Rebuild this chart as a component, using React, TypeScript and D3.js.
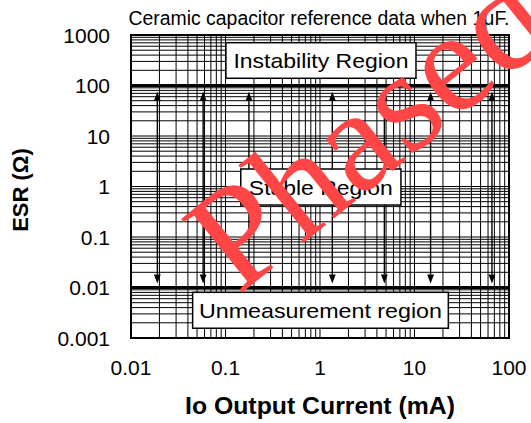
import React from 'react';
import * as d3 from 'd3';

// ---- data ----
const xTickValues = [0.01, 0.1, 1, 10, 100];
const xTickLabels = ['0.01', '0.1', '1', '10', '100'];
const yTickValues = [0.001, 0.01, 0.1, 1, 10, 100, 1000];
const yTickLabels = ['0.001', '0.01', '0.1', '1', '10', '100', '1000'];
const arrowCurrents = [0.019, 0.058, 0.177, 1.35, 4.8, 14.8, 66];
const arrowEsrRange = [0.012, 75];
const boundaryEsr = [0.01, 100];
const regionNames = ['Instability Region', 'Stable Region', 'Unmeasurement region'];
const regionCurrentFrom = [0.101, 0.145, 0.0449];
const regionCurrentTo = [10.37, 7.19, 22.8];
const regionEsrTop = [704, 2.22, 0.00803];
const regionEsrBottom = [139, 0.43, 0.00156];

const W = 531;
const H = 423;
const M = { left: 131, right: 509, top: 35, bottom: 338 };
const SANS = 'Liberation Sans, Arial, Helvetica, sans-serif';

export default function App() {
  const x = d3.scaleLog().domain([0.01, 100]).range([M.left, M.right]);
  const y = d3.scaleLog().domain([0.001, 1000]).range([M.bottom, M.top]);
  const xGrid = x.ticks();
  const yGrid = y.ticks();
  const textWidths = [175, 144, 243];

  return (
    <svg width={W} height={H} style={{ position: 'fixed', left: 0, top: 0, background: '#fff' }}
      xmlns="http://www.w3.org/2000/svg">
      <rect x={0} y={0} width={W} height={H} fill="#fff" />
      {/* grid */}
      <g stroke="#000" strokeWidth={1}>
        {xGrid.map((v, i) => (
          <line key={'gx' + i} x1={x(v)} x2={x(v)} y1={M.top} y2={M.bottom} />
        ))}
        {yGrid.map((v, i) => (
          <line key={'gy' + i} x1={M.left} x2={M.right} y1={y(v)} y2={y(v)} />
        ))}
      </g>
      {/* boundary lines */}
      {boundaryEsr.map((v, i) => (
        <line key={'b' + i} x1={M.left} x2={M.right} y1={y(v)} y2={y(v)} stroke="#000" strokeWidth={3} />
      ))}
      {/* frame */}
      <rect x={M.left} y={M.top} width={M.right - M.left} height={M.bottom - M.top}
        fill="none" stroke="#000" strokeWidth={2} />
      {/* arrows */}
      {arrowCurrents.map((c, i) => {
        const ax = x(c);
        const yt = y(arrowEsrRange[1]);
        const yb = y(arrowEsrRange[0]);
        const hl = 9, hw = 3.4;
        return (
          <g key={'a' + i}>
            <line x1={ax} x2={ax} y1={yt + hl} y2={yb - hl} stroke="#000" strokeWidth={1.4} />
            <path d={`M${ax},${yt} L${ax - hw},${yt + hl} L${ax + hw},${yt + hl} Z`} fill="#000" />
            <path d={`M${ax},${yb} L${ax - hw},${yb - hl} L${ax + hw},${yb - hl} Z`} fill="#000" />
          </g>
        );
      })}
      {/* region boxes */}
      {regionNames.map((name, i) => {
        const x0 = x(regionCurrentFrom[i]);
        const x1 = x(regionCurrentTo[i]);
        const y0 = y(regionEsrTop[i]);
        const y1 = y(regionEsrBottom[i]);
        const cx = (x0 + x1) / 2;
        const cy = (y0 + y1) / 2;
        return (
          <g key={'r' + i}>
            <rect x={x0} y={y0} width={x1 - x0} height={y1 - y0} fill="#fff" stroke="#000" strokeWidth={1.5} />
            <text x={cx} y={cy + 8} textAnchor="middle" fontFamily={SANS} fontSize={21}
              textLength={textWidths[i]} lengthAdjust="spacingAndGlyphs" fill="#000">{name}</text>
          </g>
        );
      })}
      {/* title */}
      <text x={128.5} y={25} fontFamily={SANS} fontSize={20} textLength={381}
        lengthAdjust="spacingAndGlyphs" fill="#000">Ceramic capacitor reference data when 1μF.</text>
      {/* y tick labels */}
      {yTickValues.map((v, i) => (
        <text key={'yt' + i} x={110} y={y(v) + 7.5} textAnchor="end" fontFamily={SANS} fontSize={21} fill="#000">
          {yTickLabels[i]}
        </text>
      ))}
      {/* x tick labels */}
      {xTickValues.map((v, i) => (
        <text key={'xt' + i} x={x(v)} y={375} textAnchor="middle" fontFamily={SANS} fontSize={21} fill="#000">
          {xTickLabels[i]}
        </text>
      ))}
      {/* axis titles */}
      <text x={(M.left + M.right) / 2} y={414} textAnchor="middle" fontFamily={SANS} fontSize={24}
        fontWeight="bold" textLength={270} lengthAdjust="spacingAndGlyphs" fill="#000">Io Output Current (mA)</text>
      <text transform={`translate(28, 190) rotate(-90)`} textAnchor="middle" fontFamily={SANS} fontSize={22}
        fontWeight="bold" fill="#000">ESR (Ω)</text>
      {/* watermark */}
      <text transform="translate(238, 296) rotate(-39)" fontFamily="Liberation Serif, Times New Roman, serif"
        fontSize={146} fill="#ff4646">Phased</text>
    </svg>
  );
}
